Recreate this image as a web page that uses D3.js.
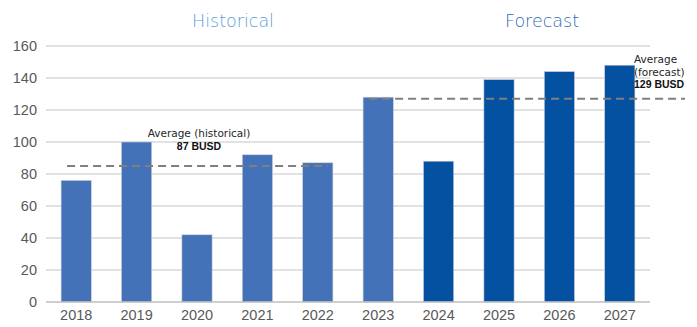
<!DOCTYPE html>
<html>
<head>
<meta charset="utf-8">
<script src="https://cdn.jsdelivr.net/npm/d3@7"></script>
<style>
  body { margin: 0; background: #fff; }
  svg text { font-family: "Liberation Sans", Arial, sans-serif; }
</style>
</head>
<body>
<div id="chart"></div>
<script>
var years = ["2018", "2019", "2020", "2021", "2022", "2023", "2024", "2025", "2026", "2027"]
var values = [76, 100, 42, 92, 87, 128, 88, 139, 144, 148]
var isForecast = [false, false, false, false, false, false, true, true, true, true]
var yTicks = [0, 20, 40, 60, 80, 100, 120, 140, 160]
// averages: where the dashed line sits, and what the label says
var avgLines = [
  {name: "historical", value: 85, label: ["Average (historical)"], amount: "87 BUSD", from: "2018", to: "2022"},
  {name: "forecast", value: 127, label: ["Average", "(forecast)"], amount: "129 BUSD", from: "2023", to: null}
]
var sections = ["Historical", "Forecast"]

var width = 697, height = 327
var mLeft = 46, mRight = 650, mTop = 46, mBottom = 302

var svg = d3.select("#chart").append("svg").attr("width", width).attr("height", height)

var x = d3.scaleBand().domain(years).range([mLeft, mRight]).paddingInner(0.5).paddingOuter(0.25)
var y = d3.scaleLinear().domain([0, 160]).range([mBottom, mTop])

// gridlines
svg.append("g").selectAll("line").data(yTicks.filter(function(d){ return d > 0 }))
  .enter().append("line")
  .attr("x1", mLeft).attr("x2", mRight)
  .attr("y1", function(d){ return y(d) }).attr("y2", function(d){ return y(d) })
  .attr("stroke", "#d9d9d9").attr("stroke-width", 1.5)

// y axis labels
var yAxis = d3.axisLeft(y).tickValues(yTicks).tickSize(0).tickPadding(9)
var yg = svg.append("g").attr("transform", "translate(" + mLeft + ",0)").call(yAxis)
yg.select(".domain").remove()
yg.selectAll("text").attr("fill", "#595959").style("font-size", "14.5px")

// bars
svg.append("g").selectAll("rect").data(values)
  .enter().append("rect")
  .attr("x", function(d, i){ return x(years[i]) })
  .attr("width", x.bandwidth())
  .attr("y", function(d){ return y(d) })
  .attr("height", function(d){ return y(0) - y(d) })
  .attr("fill", function(d, i){ return isForecast[i] ? "#0451a1" : "#4472b9" })
  .attr("stroke", "#c8ccd2").attr("stroke-width", 0.6)

// baseline
svg.append("line").attr("x1", mLeft).attr("x2", mRight).attr("y1", y(0)).attr("y2", y(0))
  .attr("stroke", "#bfbfbf").attr("stroke-width", 1.5)

// x axis labels
var xAxis = d3.axisBottom(x).tickSize(0).tickPadding(8)
var xg = svg.append("g").attr("transform", "translate(0," + y(0) + ")").call(xAxis)
xg.select(".domain").remove()
xg.selectAll("text").attr("fill", "#595959").style("font-size", "14.5px")

// average dashed lines
avgLines.forEach(function(a){
  var x1 = x(a.from) + 6
  var x2 = a.to ? x(a.to) + x.bandwidth() - 5 : width - 12
  svg.append("line").attr("x1", x1).attr("x2", x2).attr("y1", y(a.value)).attr("y2", y(a.value))
    .attr("stroke", "#7f7f7f").attr("stroke-width", 2).attr("stroke-dasharray", "8,5")
})

// historical label
var h = avgLines[0]
var hx = x("2020") + x.bandwidth() / 2 + 2
svg.append("text").attr("x", hx).attr("y", 137).attr("text-anchor", "middle")
  .attr("fill", "#262626").style("font-family", "'DejaVu Sans', sans-serif")
  .style("font-size", "10.5px").text(h.label[0])
svg.append("text").attr("x", hx).attr("y", 150).attr("text-anchor", "middle")
  .attr("fill", "#111").style("font-size", "10.5px").style("font-weight", "bold").text(h.amount)

// forecast label
var f = avgLines[1]
var fx = 634
f.label.forEach(function(t, i){
  svg.append("text").attr("x", fx).attr("y", 63 + i * 12.5)
    .attr("fill", "#262626").style("font-size", "10.5px").style("font-family", "'DejaVu Sans', sans-serif").text(t)
})
svg.append("text").attr("x", fx).attr("y", 63 + f.label.length * 12.5)
  .attr("fill", "#111").style("font-size", "10.5px").style("font-weight", "bold").text(f.amount)

// section titles
svg.append("text").attr("x", 233).attr("y", 27).attr("text-anchor", "middle")
  .attr("fill", "#5b9bd5").style("font-size", "17.5px").style("font-family", "'DejaVu Sans', sans-serif")
  .style("font-weight", "300").text(sections[0])
svg.append("text").attr("x", 542).attr("y", 27).attr("text-anchor", "middle")
  .attr("fill", "#2f6db5").style("font-size", "17.5px").style("font-family", "'DejaVu Sans', sans-serif")
  .style("font-weight", "300").text(sections[1])
</script>
</body>
</html>
